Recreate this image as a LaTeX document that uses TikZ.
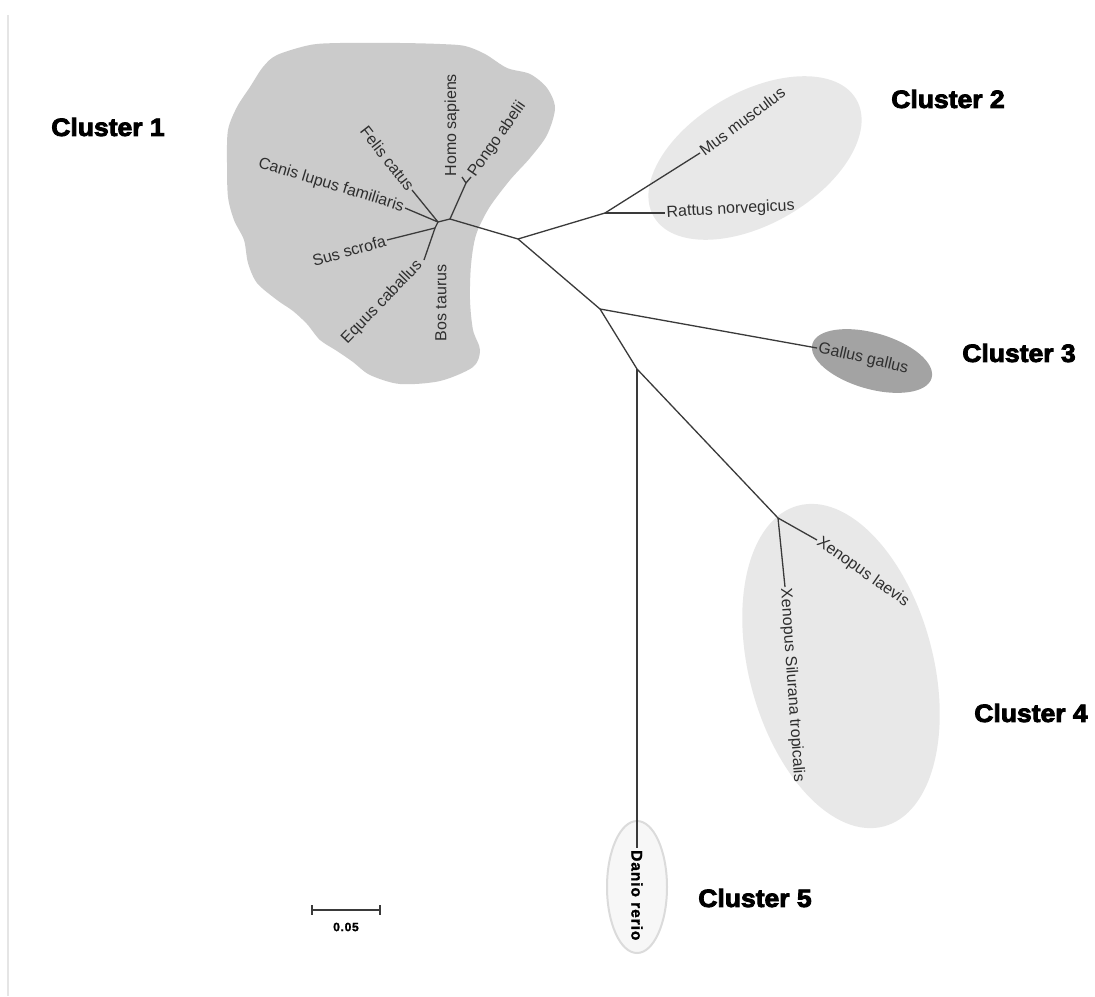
\documentclass[tikz,border=0pt]{standalone}
\usepackage{fontspec}
\setmainfont{Liberation Sans}
\newfontfamily\clfont{Liberation Sans Bold}[FakeBold=3.5, FakeStretch=1.06]
\newfontfamily\dafont{Liberation Sans Bold}[FakeBold=1.5, LetterSpace=6]
\definecolor{cone}{HTML}{CBCBCB}
\definecolor{clight}{HTML}{E8E8E8}
\definecolor{cthree}{HTML}{A3A3A3}
\definecolor{linec}{HTML}{3A3A3A}
\begin{document}
\begin{tikzpicture}[x=1pt,y=-1pt,
  leaf/.style={font=\fontsize{16}{16}\selectfont, text=black!82, inner sep=1.5pt},
  branch/.style={draw=linec, line width=1.3pt},
  cl/.style={font=\clfont\fontsize{25}{25}\selectfont, text=black}]
\useasboundingbox (0,0) rectangle (1095,996);
\fill[white] (0,0) rectangle (1095,996);
\draw[black!10, line width=1.5pt] (8,15) -- (8,996);

% cluster shapes
\fill[cone] plot[smooth cycle, tension=0.5] coordinates {
 (277,55) (310,45) (340,43) (400,43) (440,44) (465,46) (485,54) (507,68)
 (530,74) (547,88) (555,108) (547,135) (530,158) (510,180) (489,208)
 (476,235) (471,265) (470,300) (473,330) (480,350) (473,367) (440,381)
 (400,384) (370,375) (353,362) (337,351) (320,340) (307,324) (293,311)
 (277,300) (257,283) (248,263) (244,240) (234,220) (228,197) (227,163)
 (228,130) (237,107) (250,87) (263,67)};
\coordinate (e2) at (755,158);
\coordinate (e3) at (872,361);
\coordinate (e4) at (841,666);
\coordinate (e5) at (637,887);
\fill[clight, rotate around={30:(e2)}] (e2) ellipse (117 and 66);
\fill[cthree, rotate around={-16:(e3)}] (e3) ellipse (62 and 28);
\fill[clight, rotate around={15:(e4)}] (e4) ellipse (92 and 166);
\draw[black!14, fill=black!3, line width=2pt] (e5) ellipse (30 and 66);

% tree coordinates
\coordinate (n1) at (438,222);
\coordinate (n1b) at (435,228);
\coordinate (n2) at (450,219);
\coordinate (hp) at (466,183);
\coordinate (hsE) at (462,177);
\coordinate (paE) at (471,177);
\coordinate (feE) at (412,190);
\coordinate (caE) at (405,208);
\coordinate (suE) at (387,240);
\coordinate (eqE) at (424,260);
\coordinate (B) at (518,239);
\coordinate (C2) at (605,213);
\coordinate (muE) at (700,153);
\coordinate (raE) at (665,213);
\coordinate (B2) at (600,309);
\coordinate (gaE) at (817,348);
\coordinate (B3) at (637,369);
\coordinate (C4) at (778,518);
\coordinate (xlE) at (817,540);
\coordinate (xtE) at (785,587);
\coordinate (daE) at (637,848);

% branches
\draw[branch] (n1) -- (feE);
\draw[branch] (n1) -- (caE);
\draw[branch] (n1) -- (n1b);
\draw[branch] (n1b) -- (suE);
\draw[branch] (n1b) -- (eqE);
\draw[branch] (n1) -- (n2);
\draw[branch] (n2) -- (hp);
\draw[branch] (hp) -- (hsE);
\draw[branch] (hp) -- (paE);
\draw[branch] (n2) -- (B);
\draw[branch] (B) -- (C2);
\draw[branch] (C2) -- (muE);
\draw[branch] (C2) -- (raE);
\draw[branch] (B) -- (B2);
\draw[branch] (B2) -- (gaE);
\draw[branch] (B2) -- (B3);
\draw[branch] (B3) -- (C4);
\draw[branch] (C4) -- (xlE);
\draw[branch] (C4) -- (xtE);
\draw[branch] (B3) -- (daE);

% leaf labels
\node[leaf, rotate=-52, anchor=east] (fe) at (feE) {Felis catus};
\node[leaf, rotate=-17, anchor=east] (ca) at (caE) {Canis lupus familiaris};
\node[leaf, rotate=16, anchor=east] (su) at (suE) {Sus scrofa};
\node[leaf, rotate=46, anchor=east] (eq) at (421,262) {Equus caballus};
\node[leaf, rotate=90, anchor=east] (bo) at (441,263) {Bos taurus};
\node[leaf, rotate=90, anchor=west] (hs) at (452,178) {Homo sapiens};
\node[leaf, rotate=55, anchor=west] (pa) at (paE) {Pongo abelii};
\node[leaf, rotate=37, anchor=west] (mu) at (muE) {Mus musculus};
\node[leaf, rotate=3, anchor=west] (ra) at (raE) {Rattus norvegicus};
\node[leaf, rotate=-13, anchor=west] (ga) at (gaE) {Gallus gallus};
\node[leaf, rotate=-35, anchor=west] (xl) at (xlE) {Xenopus laevis};
\node[leaf, rotate=-86, anchor=west] (xt) at (xtE) {Xenopus Silurana tropicalis};
\node[rotate=-90, anchor=west, inner sep=2pt, font=\dafont\fontsize{15.5}{15.5}\selectfont] (da) at (daE) {Danio rerio};

% cluster labels
\node[cl] (k1) at (108,127) {Cluster 1};
\node[cl] (k2) at (948,99) {Cluster 2};
\node[cl] (k3) at (1019,353) {Cluster 3};
\node[cl] (k4) at (1031,713) {Cluster 4};
\node[cl] (k5) at (755,898) {Cluster 5};

% scale bar
\coordinate (sb1) at (312,910);
\coordinate (sb2) at (380,910);
\draw[linec, line width=1.3pt] (sb1) -- (sb2);
\draw[linec, line width=1.3pt] (sb1) ++(0,-5) -- ++(0,10);
\draw[linec, line width=1.3pt] (sb2) ++(0,-5) -- ++(0,10);
\node[font=\dafont\fontsize{12}{12}\selectfont, inner sep=1pt] (sbl) at (346,927) {0.05};
\end{tikzpicture}
\end{document}
